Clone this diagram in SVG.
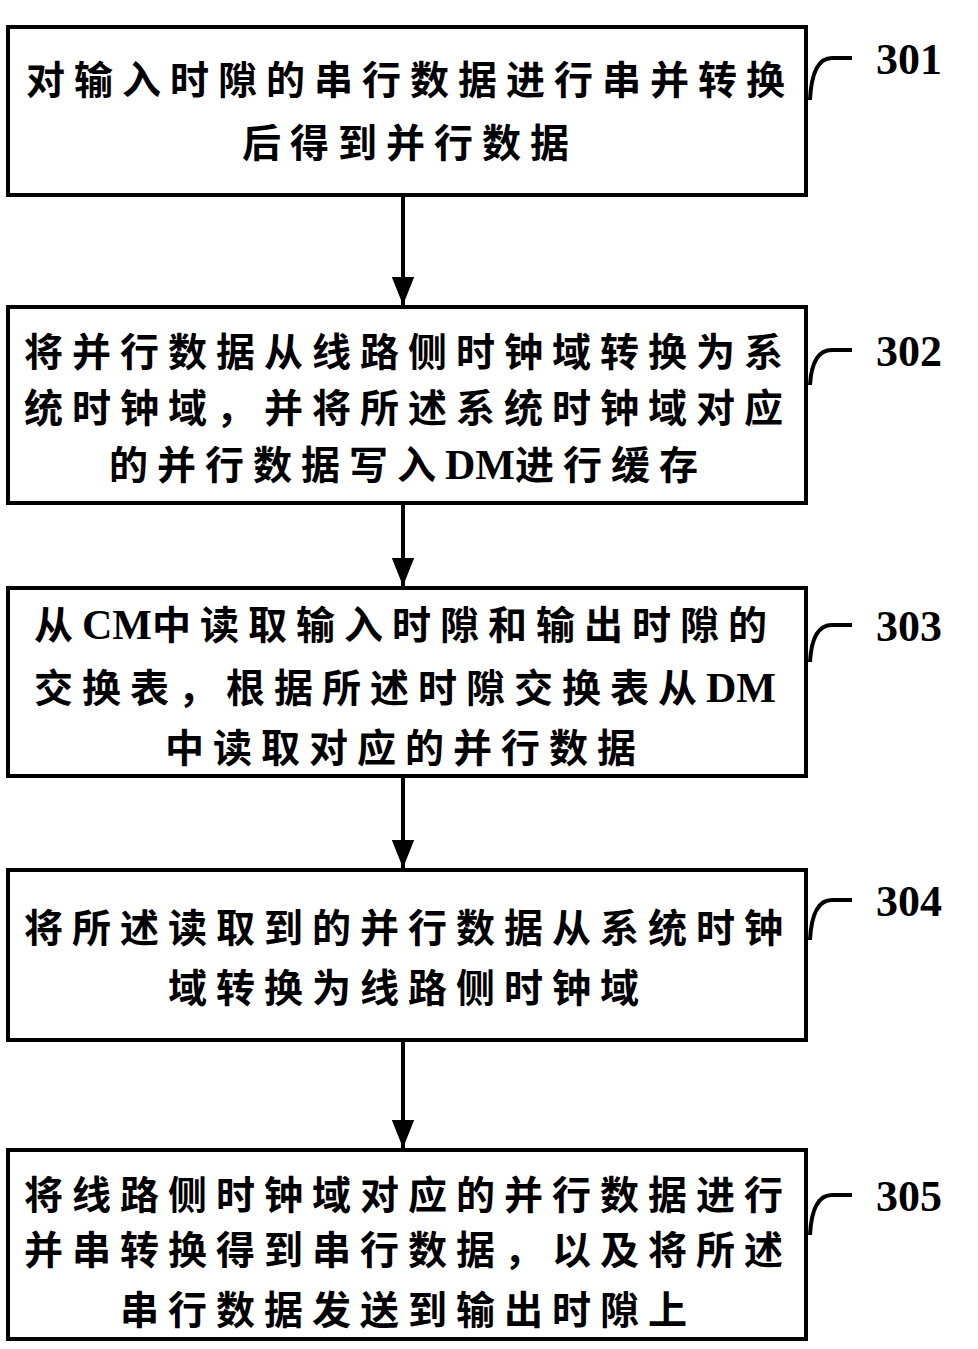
<svg xmlns="http://www.w3.org/2000/svg" width="978" height="1349" viewBox="0 0 978 1349">
<style>
.b{fill:#fff;stroke:#000;stroke-width:4}
.t{font-family:"Noto Sans CJK SC","Liberation Serif",serif;font-weight:bold;font-size:39px;letter-spacing:9px;text-anchor:middle}
.l{font-family:"Liberation Serif",serif;font-size:42px;letter-spacing:0}
.n{font-family:"Liberation Serif",serif;font-size:44px;font-weight:bold}
.c{fill:none;stroke:#000;stroke-width:4}
</style>
<defs>
<marker id="ah" viewBox="0 0 10 10" refX="10" refY="5" markerWidth="28" markerHeight="28" markerUnits="userSpaceOnUse" orient="auto"><path d="M0,1L10,5L0,9z"/></marker></defs>
<g id="connectors">
<line class="c" x1="403" y1="197" x2="403" y2="305" marker-end="url(#ah)"/>
<line class="c" x1="403" y1="505" x2="403" y2="586" marker-end="url(#ah)"/>
<line class="c" x1="403" y1="778" x2="403" y2="868" marker-end="url(#ah)"/>
<line class="c" x1="403" y1="1042" x2="403" y2="1148" marker-end="url(#ah)"/>
</g>
<g id="n301"><rect class="b" x="8" y="27" width="798" height="168"/>
<text class="t" x="410" y="94">对输入时隙的串行数据进行串并转换</text>
<text class="t" x="410" y="157">后得到并行数据</text>
<path class="c" d="M810,100Q812,58 832,58L852,58"/><text class="n" x="876" y="74">301</text></g>
<g id="n302"><rect class="b" x="8" y="307" width="798" height="196"/>
<text class="t" x="408" y="366">将并行数据从线路侧时钟域转换为系</text>
<text class="t" x="408" y="422">统时钟域，并将所述系统时钟域对应</text>
<text class="t" x="408" y="479">的并行数据写入<tspan class="l">DM</tspan>进行缓存</text>
<path class="c" d="M810,385Q812,350 832,350L852,350"/><text class="n" x="876" y="366">302</text></g>
<g id="n303"><rect class="b" x="8" y="588" width="798" height="188"/>
<text class="t" x="405" y="639">从<tspan class="l">CM</tspan>中读取输入时隙和输出时隙的</text>
<text class="t" x="405" y="702">交换表，根据所述时隙交换表从<tspan class="l">DM</tspan></text>
<text class="t" x="405" y="762">中读取对应的并行数据</text>
<path class="c" d="M810,662Q812,625 832,625L852,625"/><text class="n" x="876" y="641">303</text></g>
<g id="n304"><rect class="b" x="8" y="870" width="798" height="170"/>
<text class="t" x="408" y="942">将所述读取到的并行数据从系统时钟</text>
<text class="t" x="408" y="1002">域转换为线路侧时钟域</text>
<path class="c" d="M810,940Q812,900 832,900L852,900"/><text class="n" x="876" y="916">304</text></g>
<g id="n305"><rect class="b" x="8" y="1150" width="798" height="189"/>
<text class="t" x="408" y="1209">将线路侧时钟域对应的并行数据进行</text>
<text class="t" x="408" y="1264">并串转换得到串行数据，以及将所述</text>
<text class="t" x="408" y="1324">串行数据发送到输出时隙上</text>
<path class="c" d="M810,1235Q812,1195 832,1195L852,1195"/><text class="n" x="876" y="1211">305</text></g>
</svg>
